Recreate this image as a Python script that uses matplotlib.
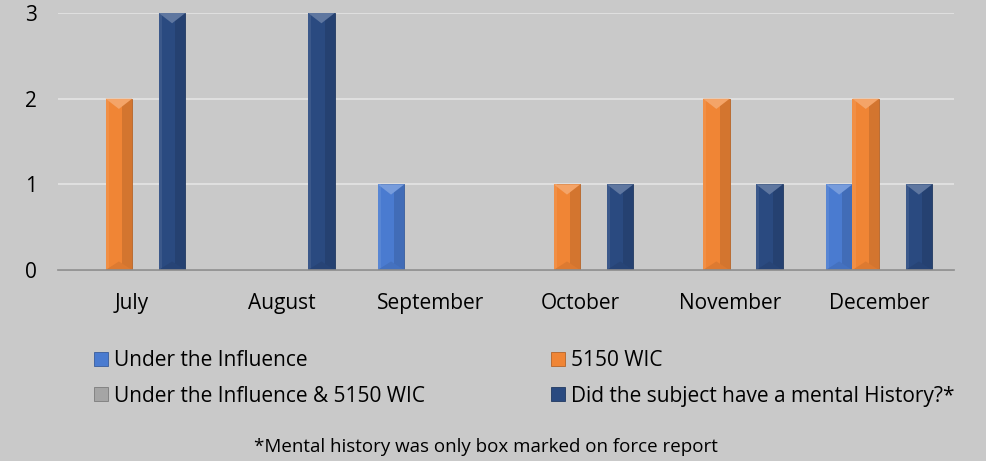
import matplotlib.pyplot as plt
import numpy as np
from matplotlib.patches import Polygon, Rectangle

plt.rcParams['font.family'] = ['Open Sans', 'DejaVu Sans']

# Data
months = ['July', 'August', 'September', 'October', 'November', 'December']
under_influence = [0, 0, 1, 0, 0, 1]
wic_5150 = [2, 0, 0, 1, 2, 2]
both = [0, 0, 0, 0, 0, 0]
mental_history = [3, 3, 0, 1, 1, 1]

series_names = ['Under the Influence', '5150 WIC',
                'Under the Influence & 5150 WIC',
                'Did the subject have a mental History?*']
series_colors = ['#4a7bd0', '#f08535', '#a5a5a5', '#2a4a80']

bg = '#c9c9c9'

fig = plt.figure(figsize=(9.86, 4.61), dpi=100, facecolor=bg)
ax = fig.add_axes([57.5 / 986, 1 - 270 / 461, (953.7 - 57.5) / 986, 257 / 461])
ax.set_facecolor(bg)

x = np.arange(len(months))
w = 0.178
offsets = [-1.5, -0.5, 0.5, 1.5]
all_series = [under_influence, wic_5150, both, mental_history]


def shade(c, f):
    c = np.array(plt.matplotlib.colors.to_rgb(c))
    if f > 0:
        return tuple(c + (1 - c) * f)
    return tuple(c * (1 + f))


handles = []
for vals, off, col, name in zip(all_series, offsets, series_colors, series_names):
    bars = ax.bar(x + off * w, vals, width=w, color=col, label=name,
                  edgecolor=shade(col, -0.25), linewidth=0.6, zorder=3)
    handles.append(bars)
    # simple bevel look
    for b in bars:
        h = b.get_height()
        if h <= 0:
            continue
        bx, bw = b.get_x(), b.get_width()
        ax.add_patch(Rectangle((bx + bw * 0.62, 0), bw * 0.38, h,
                               color=shade(col, -0.12), zorder=3.5, lw=0))
        ax.add_patch(Rectangle((bx, 0), bw * 0.12, h,
                               color=shade(col, 0.08), zorder=3.5, lw=0))
        ax.add_patch(Polygon([(bx, h), (bx + bw, h), (bx + bw / 2, h - 0.12)],
                             color=shade(col, 0.25), zorder=4, lw=0))
        ax.add_patch(Polygon([(bx, 0), (bx + bw, 0), (bx + bw / 2, 0.1)],
                             color=shade(col, -0.08), zorder=4, lw=0))

ax.set_xlim(-0.5, len(months) - 0.5)
ax.set_ylim(0, 3)
ax.set_yticks([0, 1, 2, 3])
ax.set_xticks(x)
ax.set_xticklabels(months)
ax.tick_params(axis='both', length=0, labelsize=15, colors='black')
ax.tick_params(axis='y', pad=15)
ax.tick_params(axis='x', pad=16.5)
ax.grid(axis='y', color='#e4e4e4', linewidth=1.2, zorder=0)
for s in ['top', 'right', 'left']:
    ax.spines[s].set_visible(False)
ax.spines['bottom'].set_color('#8c8c8c')
ax.spines['bottom'].set_linewidth(1.2)
ax.spines['bottom'].set_zorder(5)

leg_kw = dict(frameon=False, fontsize=15, handlelength=0.65, handleheight=0.65,
              handletextpad=0.3, labelspacing=0.68, borderpad=0, borderaxespad=0,
              loc='center left')
fig.legend([handles[0], handles[2]], [series_names[0], series_names[2]],
           bbox_to_anchor=(94 / 986, 1 - 378.5 / 461), **leg_kw)
fig.legend([handles[1], handles[3]], [series_names[1], series_names[3]],
           bbox_to_anchor=(551 / 986, 1 - 378.5 / 461), **leg_kw)

fig.text(486 / 986, 1 - 447 / 461, '*Mental history was only box marked on force report',
         ha='center', va='center', fontsize=13.5)

fig.savefig('out.png', dpi=100, facecolor=bg)
